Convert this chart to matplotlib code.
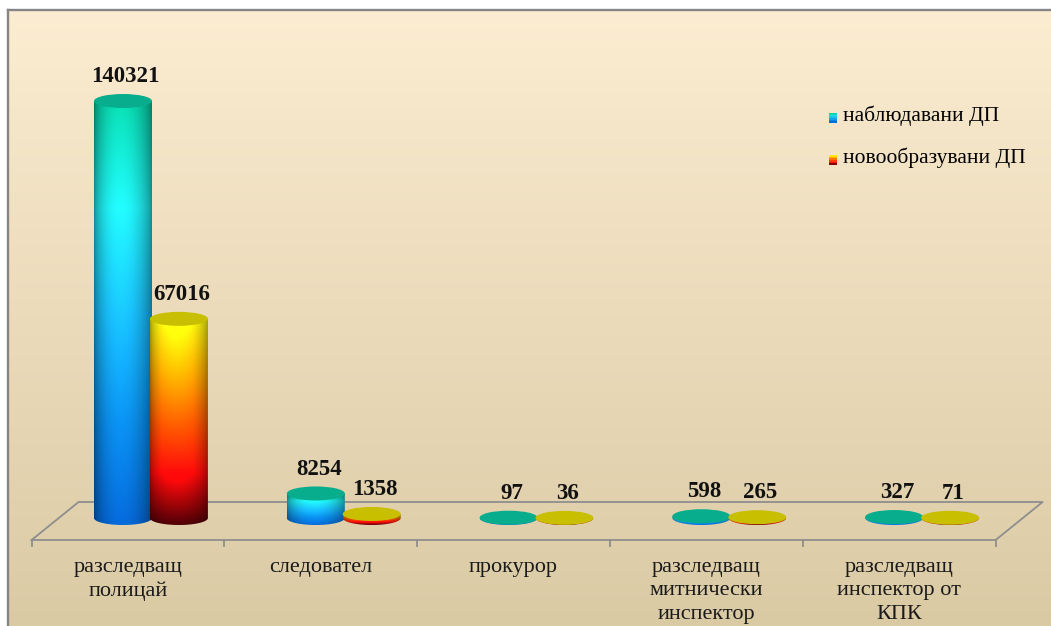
import numpy as np
import matplotlib
matplotlib.use("Agg")
import matplotlib.pyplot as plt
from matplotlib.colors import LinearSegmentedColormap, to_rgb
from matplotlib.patches import Ellipse, PathPatch, Rectangle
from matplotlib.path import Path
from matplotlib.lines import Line2D
from matplotlib.legend_handler import HandlerBase

plt.rcParams["font.family"] = ["Liberation Serif", "DejaVu Serif"]

# data
categories = ["разследващ\nполицай", "следовател", "прокурор",
              "разследващ\nмитнически\nинспектор", "разследващ\nинспектор от\nКПК"]
series_names = ["наблюдавани ДП", "новообразувани ДП"]
observed = [140321, 8254, 97, 598, 327]
new_cases = [67016, 1358, 36, 265, 71]

# look
W, H = 1051, 626
blue_cmap = LinearSegmentedColormap.from_list(
    "blue", ["#08c9a2", "#1fe3e6", "#18b4ec", "#0a86dc", "#0560c6"])
red_cmap = LinearSegmentedColormap.from_list(
    "red", ["#ffff10", "#ffb000", "#ff5a00", "#ff0a0a", "#4a0006"])
top_colors = ["#07ad8c", "#c8bf00"]
cmaps = [blue_cmap, red_cmap]

fig = plt.figure(figsize=(W / 100, H / 100), dpi=100)
fig.patch.set_facecolor("white")

# background panel with a soft vertical gradient
bg = fig.add_axes([9 / W, 0, 1 - 9 / W, 1 - 11 / H])
grad = np.linspace(0, 1, 256)[:, None]
c_top = np.array(to_rgb("#fcecd1"))
c_bot = np.array(to_rgb("#dacaa4"))
bg_img = c_top[None, None, :] * (1 - grad[..., None]) + c_bot[None, None, :] * grad[..., None]
bg.imshow(np.repeat(bg_img, 4, axis=1), aspect="auto", extent=(0, 1, 0, 1))
bg.axis("off")
fig.add_artist(Line2D([8 / W, 1], [1 - 10 / H] * 2, color="#858585", lw=1.7))
fig.add_artist(Line2D([8 / W] * 2, [0, 1 - 10 / H], color="#858585", lw=1.7))

# main axes covering the figure
ax = fig.add_axes([0, 0, 1, 1])
ax.patch.set_alpha(0)
ax.axis("off")

PX_PER_CAT = 192.8
X0_PX = 128.0
BASE_PX, TOP_PX = 518.0, 101.0
k = (BASE_PX - TOP_PX) / max(observed)
xlim = (-X0_PX / PX_PER_CAT, (W - X0_PX) / PX_PER_CAT)
ylim = ((BASE_PX - H) / k, BASE_PX / k)
ax.set_xlim(*xlim)
ax.set_ylim(*ylim)


def dx(p):
    return p * (xlim[1] - xlim[0]) / W


def dy(p):
    return p * (ylim[1] - ylim[0]) / H


n = len(categories)
x = np.arange(n)

# floor
front, back, shift = -dy(22), dy(16), dx(47)
fx = [-0.5, n - 0.5, n - 0.5 + shift, -0.5 + shift, -0.5]
fy = [front, front, back, back, front]
ax.plot(fx, fy, color="#8e8e8e", lw=1.3, zorder=1)
for b in np.arange(-0.5, n):
    ax.plot([b, b], [front, front - dy(6)], color="#8e8e8e", lw=1.3, zorder=1)


def cylinder(cx, v, w, eh, cmap, top_color):
    t = np.linspace(0, np.pi, 60)
    verts = [(cx - w / 2, v), (cx + w / 2, v), (cx + w / 2, 0)]
    verts += list(zip(cx + w / 2 * np.cos(t), -eh / 2 * np.sin(t)))
    verts.append((cx - w / 2, v))
    codes = [Path.MOVETO] + [Path.LINETO] * (len(verts) - 2) + [Path.CLOSEPOLY]
    clip = PathPatch(Path(verts, codes), facecolor="none", edgecolor="none")
    ax.add_patch(clip)
    rows = cmap(np.linspace(0, 1, 200))[:, :3]
    u = np.linspace(0, 1, 80)
    shade = 0.62 + 0.5 * np.sin(np.pi * u ** 0.9) ** 0.7
    img = np.clip(rows[:, None, :] * shade[None, :, None], 0, 1)
    im = ax.imshow(img, extent=(cx - w / 2, cx + w / 2, -eh / 2, v),
                   aspect="auto", origin="upper", zorder=2, interpolation="bilinear")
    im.set_clip_path(clip)
    ax.add_patch(Ellipse((cx, v), w, eh, facecolor=top_color,
                         edgecolor="none", zorder=3))


w = dx(58)
eh = dy(14)
offsets = [-0.026, 0.264]
for s, vals in enumerate([observed, new_cases]):
    for i, v in enumerate(vals):
        cx = x[i] + offsets[s]
        cylinder(cx, v, w, eh, cmaps[s], top_colors[s])
        ax.annotate(str(v), (cx, v), xytext=(2, 17.5), textcoords="offset points",
                    ha="center", va="center", fontsize=16.5, fontweight="bold",
                    color="#111111", zorder=5)

# axis labels
for i, lab in enumerate(categories):
    ax.text(x[i], front - dy(18), lab, ha="center", va="top", fontsize=16,
            linespacing=1.32, color="#1a1a1a")


# legend with gradient swatches
class GradientHandler(HandlerBase):
    def create_artists(self, legend, orig, xd, yd, width, height, fontsize, trans):
        cmap = orig.cmap_ref
        arts = []
        nstr = 6
        for j in range(nstr):
            arts.append(Rectangle((xd, yd + height * (nstr - 1 - j) / nstr), width,
                                  height / nstr, facecolor=cmap((j + 0.5) / nstr),
                                  edgecolor="none", transform=trans))
        return arts


handles = []
for s in range(2):
    h = Rectangle((0, 0), 1, 1)
    h.cmap_ref = cmaps[s]
    handles.append(h)
ax.legend(handles, series_names, loc="upper left",
          bbox_to_anchor=(829 / W, 1 - 105 / H), bbox_transform=fig.transFigure,
          frameon=False, fontsize=15.5, handlelength=0.35, handleheight=0.35,
          handletextpad=0.3, labelspacing=1.0, borderpad=0, borderaxespad=0,
          handler_map={Rectangle: GradientHandler()})

fig.savefig("out.png", dpi=100)
